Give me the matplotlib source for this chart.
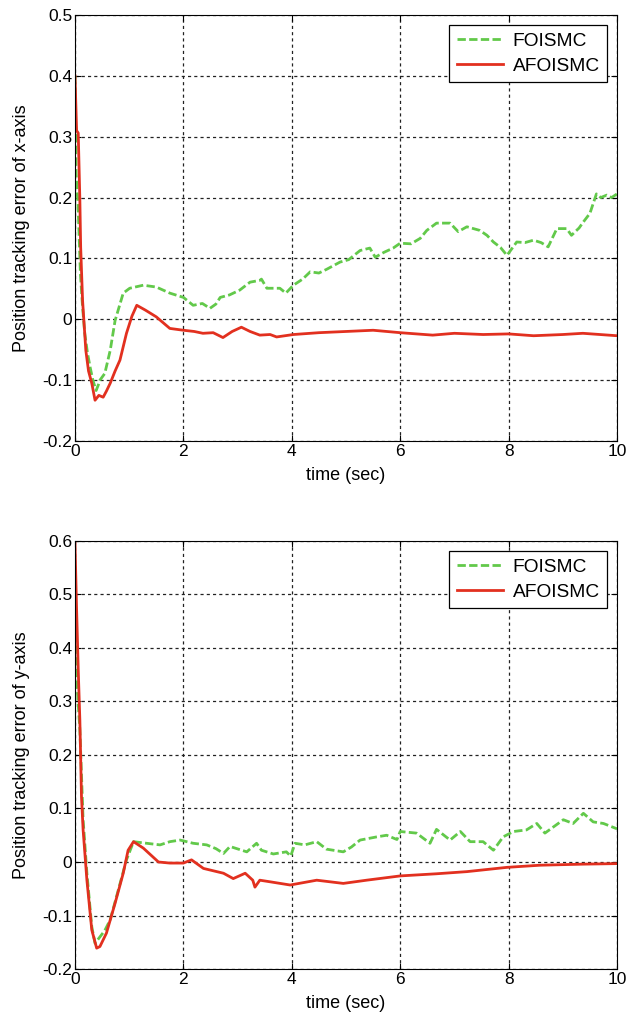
import matplotlib
matplotlib.use("Agg")
import matplotlib.pyplot as plt

plt.rcParams['font.family'] = ['Liberation Sans', 'DejaVu Sans']

# x-axis tracking error
t_fo_x = [0.0, 0.02, 0.06, 0.1, 0.14, 0.18, 0.23, 0.28, 0.33, 0.39, 0.43, 0.46, 0.55, 0.65, 0.74,
          0.89, 1.01, 1.26, 1.5, 1.75, 2.0, 2.18, 2.35, 2.49, 2.6, 2.68, 2.85, 3.04, 3.23, 3.41,
          3.44, 3.54, 3.78, 3.89, 4.03, 4.2, 4.34, 4.5, 4.64, 4.89, 5.05, 5.26, 5.44, 5.54, 5.7,
          5.87, 6.0, 6.2, 6.37, 6.49, 6.67, 6.92, 7.07, 7.23, 7.47, 7.6, 7.72, 7.85, 7.97, 8.15,
          8.3, 8.46, 8.6, 8.73, 8.89, 9.07, 9.16, 9.3, 9.38, 9.5, 9.62, 9.7, 9.81, 9.9, 10.0]
e_fo_x = [0.40, 0.24, 0.18, 0.075, 0.02, -0.023, -0.055, -0.079, -0.10, -0.117, -0.108, -0.100, -0.089, -0.051, -0.002,
          0.043, 0.051, 0.056, 0.053, 0.043, 0.036, 0.023, 0.026, 0.018, 0.025, 0.036, 0.040, 0.048, 0.061, 0.064,
          0.066, 0.051, 0.051, 0.043, 0.056, 0.066, 0.078, 0.076, 0.082, 0.094, 0.098, 0.113, 0.117, 0.102, 0.110,
          0.117, 0.125, 0.124, 0.133, 0.146, 0.158, 0.158, 0.144, 0.152, 0.146, 0.138, 0.127, 0.118, 0.105, 0.127,
          0.126, 0.130, 0.126, 0.119, 0.149, 0.149, 0.138, 0.150, 0.160, 0.174, 0.206, 0.200, 0.204, 0.200, 0.206]

t_afo_x = [0.0, 0.03, 0.06, 0.09, 0.105, 0.14, 0.2, 0.25, 0.31, 0.37, 0.44, 0.52, 0.58, 0.65, 0.74,
           0.83, 0.95, 1.05, 1.14, 1.3, 1.5, 1.75, 2.0, 2.2, 2.36, 2.55, 2.73, 2.9, 3.07, 3.23,
           3.41, 3.6, 3.72, 4.03, 4.5, 5.0, 5.5, 6.0, 6.6, 7.0, 7.53, 8.0, 8.46, 9.0, 9.37, 10.0]
e_afo_x = [0.40, 0.31, 0.306, 0.196, 0.118, 0.031, -0.051, -0.085, -0.105, -0.133, -0.125, -0.128, -0.118, -0.105, -0.085,
           -0.067, -0.023, 0.005, 0.023, 0.015, 0.004, -0.015, -0.018, -0.020, -0.023, -0.022, -0.030, -0.020, -0.013, -0.020,
           -0.026, -0.025, -0.029, -0.025, -0.022, -0.020, -0.018, -0.022, -0.026, -0.023, -0.025, -0.024, -0.027, -0.025, -0.023, -0.027]

# y-axis tracking error
t_fo_y = [0.0, 0.02, 0.09, 0.15, 0.22, 0.31, 0.37, 0.46, 0.55, 0.65, 0.8, 0.95, 1.08, 1.32, 1.57,
          1.75, 1.94, 2.18, 2.43, 2.6, 2.74, 2.86, 3.17, 3.35, 3.44, 3.66, 3.9, 3.98, 4.06, 4.24,
          4.46, 4.64, 4.95, 5.1, 5.26, 5.57, 5.75, 5.94, 6.0, 6.3, 6.55, 6.67, 6.92, 7.11, 7.29,
          7.53, 7.72, 7.9, 8.09, 8.33, 8.52, 8.67, 9.01, 9.19, 9.38, 9.56, 9.75, 10.0]
e_fo_y = [0.47, 0.359, 0.247, 0.079, -0.021, -0.121, -0.152, -0.140, -0.128, -0.108, -0.052, 0.004, 0.038, 0.035, 0.032,
          0.038, 0.041, 0.035, 0.032, 0.025, 0.016, 0.029, 0.019, 0.035, 0.022, 0.015, 0.019, 0.011, 0.035, 0.032,
          0.038, 0.024, 0.019, 0.028, 0.041, 0.047, 0.050, 0.042, 0.057, 0.054, 0.035, 0.061, 0.041, 0.057, 0.038,
          0.038, 0.022, 0.047, 0.057, 0.060, 0.072, 0.054, 0.079, 0.072, 0.091, 0.075, 0.072, 0.062]

t_afo_y = [0.0, 0.03, 0.06, 0.09, 0.12, 0.15, 0.22, 0.31, 0.4, 0.46, 0.58, 0.74, 0.89, 0.98, 1.08,
           1.26, 1.54, 1.75, 2.0, 2.15, 2.37, 2.74, 2.92, 3.14, 3.28, 3.32, 3.41, 3.6, 3.97, 4.46,
           4.95, 5.38, 6.0, 6.67, 7.23, 7.97, 8.58, 9.38, 10.0]
e_afo_y = [0.596, 0.471, 0.359, 0.265, 0.122, 0.060, -0.034, -0.127, -0.161, -0.158, -0.133, -0.077, -0.021, 0.022, 0.038,
           0.026, 0.000, -0.002, -0.002, 0.004, -0.012, -0.021, -0.031, -0.021, -0.034, -0.047, -0.034, -0.037, -0.043, -0.034,
           -0.040, -0.034, -0.026, -0.022, -0.018, -0.010, -0.006, -0.004, -0.003]

panels = [
    (t_fo_x, e_fo_x, t_afo_x, e_afo_x, 'Position tracking error of x-axis', (-0.2, 0.5)),
    (t_fo_y, e_fo_y, t_afo_y, e_afo_y, 'Position tracking error of y-axis', (-0.2, 0.6)),
]

green = '#62c94a'
red = '#e2301f'

fig = plt.figure(figsize=(6.28, 10.24), dpi=100)
boxes = [[0.1194, 0.5693, 0.8631, 0.4161], [0.1194, 0.0537, 0.8631, 0.4180]]

for box, (tf, ef, ta, ea, ylab, ylim) in zip(boxes, panels):
    ax = fig.add_axes(box)
    ax.plot(tf, ef, color=green, lw=2.0, ls=(0, (3, 1.2)), label='FOISMC')
    ax.plot(ta, ea, color=red, lw=2.0, label='AFOISMC')
    ax.set_xlim(0, 10)
    ax.set_ylim(*ylim)
    ax.set_xticks([0, 2, 4, 6, 8, 10])
    ax.set_yticks([round(ylim[0] + 0.1 * k, 1) for k in range(int(round((ylim[1] - ylim[0]) / 0.1)) + 1)])
    ax.set_yticklabels([('%g' % v) for v in ax.get_yticks()])
    ax.grid(True, color='#222222', ls=(0, (2.5, 2.5)), lw=0.9)
    ax.tick_params(direction='in', labelsize=12.5, length=4, pad=2, top=True, right=True)
    for s in ax.spines.values():
        s.set_linewidth(0.8)
    ax.set_xlabel('time (sec)', fontsize=13, labelpad=6)
    ax.set_ylabel(ylab, fontsize=13, labelpad=9)
    leg = ax.legend(loc='upper right', fontsize=13.8, fancybox=False, framealpha=1,
                    edgecolor='black', handlelength=2.4, handletextpad=0.5,
                    borderaxespad=0.5, borderpad=0.4, labelspacing=0.4)
    leg.get_frame().set_linewidth(0.9)

fig.savefig('out.png', dpi=100)
